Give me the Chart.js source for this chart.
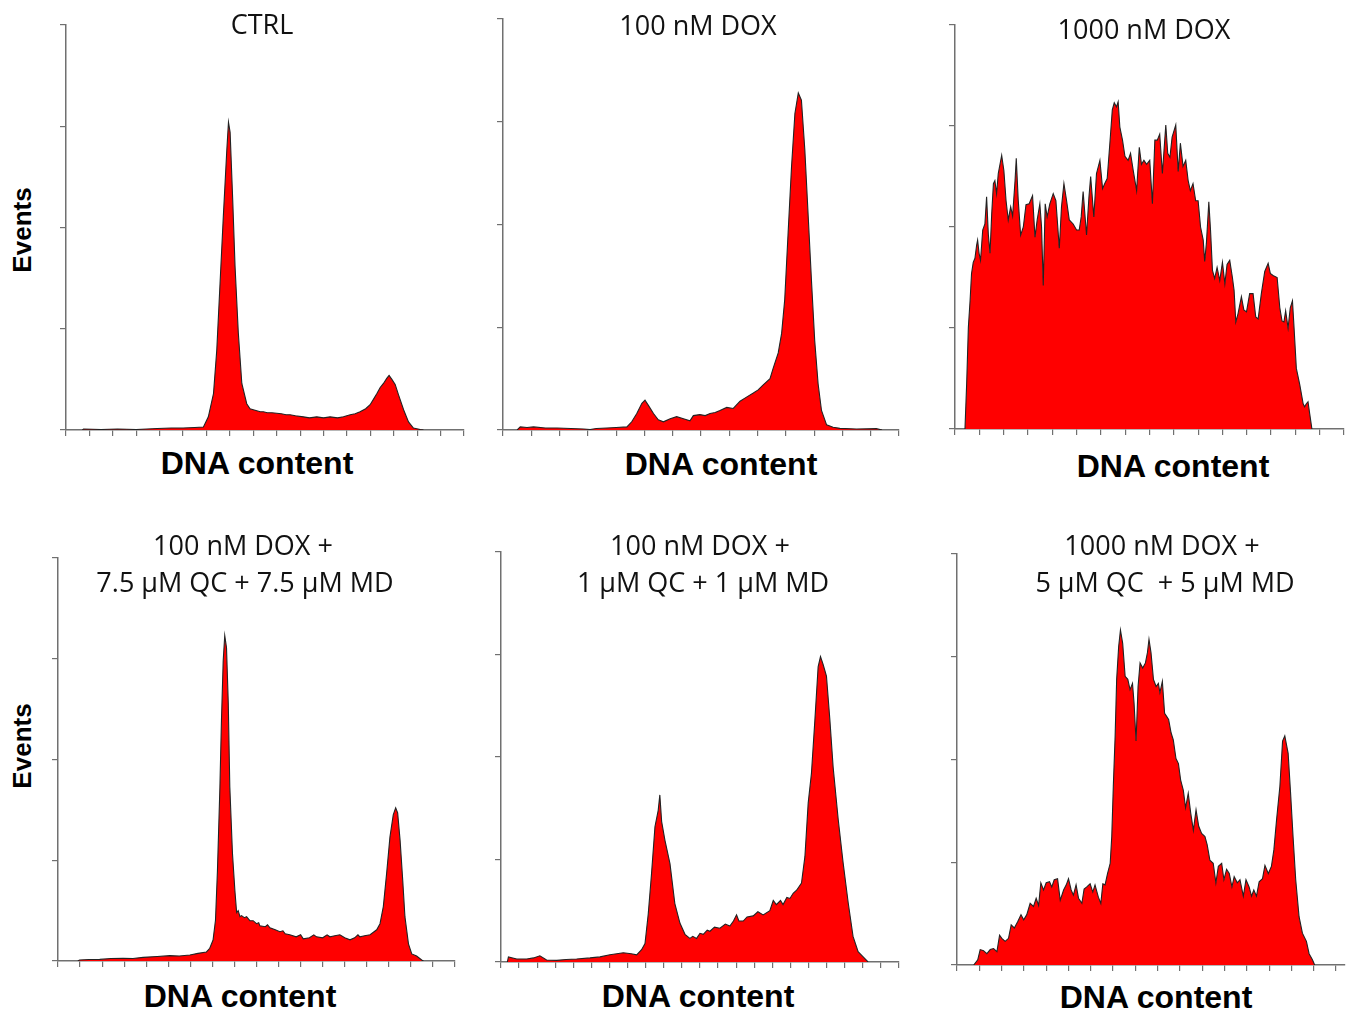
<!DOCTYPE html>
<html>
<head>
<meta charset="utf-8">
<script src="https://cdn.jsdelivr.net/npm/chart.js@4.4.0/dist/chart.umd.min.js"></script>
<style>
    body { margin: 0; background: #fff; }
    #wrap { position: relative; width: 1346px; height: 1009px; overflow: hidden; }
    .panel { position: absolute; }
    .lbl { position: absolute; transform: translate(-50%, -50%); white-space: pre; line-height: 1; color: #111; }
    .ttl { font-family: 'Open Sans', sans-serif; font-size: 27px; }
    .xt { font-family: 'Liberation Sans', Arial, sans-serif; font-weight: bold; font-size: 32px; color: #000; }
    .yt { font-family: 'Liberation Sans', Arial, sans-serif; font-weight: bold; font-size: 26px; color: #000; transform: translate(-50%, -50%) rotate(-90deg); }
</style>
</head>
<body>
<div id="wrap"></div>
<script>
// x values are in tick intervals of each panel's DNA-content axis, y in events (tick every 100)
const ctrlData = [
    [0.7, 0], [0.75, 1], [1.5, 0.5], [2.2, 1], [3.0, 0.5], [3.9, 1.5], [4.5, 2], [5.0, 2], [5.5, 2.5],
    [5.87, 3], [6.08, 13], [6.30, 36], [6.44, 79], [6.58, 145], [6.72, 211], [6.87, 277], [6.94, 304],
    [7.01, 294], [7.12, 228], [7.22, 162], [7.36, 96], [7.51, 46], [7.72, 26], [7.86, 21], [8.0, 20],
    [8.15, 19], [8.3, 18], [8.43, 18], [8.6, 17], [8.8, 17], [9.0, 16.5], [9.2, 16], [9.4, 15], [9.57, 15],
    [9.8, 14], [10.14, 13], [10.4, 12], [10.71, 13], [11.0, 12], [11.28, 13], [11.6, 12], [11.85, 13],
    [12.14, 15], [12.35, 16], [12.56, 18], [12.8, 21], [12.99, 25], [13.15, 31], [13.28, 36], [13.42, 42],
    [13.56, 46], [13.70, 51], [13.80, 54], [13.92, 50], [14.06, 45], [14.20, 35], [14.42, 20], [14.63, 8],
    [14.84, 2], [15.13, 0.5], [15.27, 0]
];

const dox100Data = [
    [0.5, 0], [0.61, 3], [0.85, 2.5], [1.08, 3], [1.5, 2], [1.91, 2], [2.4, 1.5], [2.85, 1], [3.08, 0.5],
    [3.3, 1.5], [3.67, 2], [4.0, 2.5], [4.38, 3], [4.55, 8], [4.73, 16], [4.91, 26], [5.02, 29], [5.14, 24],
    [5.32, 16], [5.49, 10], [5.67, 8], [5.91, 11], [6.14, 13], [6.38, 11], [6.61, 9], [6.73, 14], [6.96, 15],
    [7.15, 14], [7.32, 16], [7.5, 17], [7.67, 19], [7.91, 22], [8.14, 21], [8.38, 28], [8.61, 32], [8.85, 36],
    [9.02, 39], [9.20, 44], [9.44, 50], [9.55, 60], [9.73, 75], [9.85, 94], [9.96, 127], [10.08, 192],
    [10.20, 256], [10.32, 308], [10.44, 328], [10.55, 321], [10.67, 273], [10.79, 208], [10.91, 143],
    [11.02, 87], [11.14, 45], [11.26, 19], [11.44, 5], [11.67, 2.6], [11.91, 1.6], [12.49, 1], [13.2, 1.3],
    [13.4, 0]
];

const dox1000Data = [
    [0.41, 0], [0.48, 45], [0.55, 101], [0.62, 127], [0.68, 154], [0.75, 165], [0.82, 169], [0.89, 182],
    [0.93, 187], [0.99, 174], [1.05, 167], [1.14, 197], [1.23, 203], [1.30, 230], [1.37, 193], [1.44, 174],
    [1.51, 213], [1.58, 243], [1.64, 246], [1.71, 233], [1.78, 253], [1.92, 271], [2.01, 256], [2.10, 226],
    [2.19, 207], [2.29, 220], [2.37, 211], [2.47, 246], [2.52, 268], [2.60, 227], [2.70, 192], [2.81, 200],
    [2.92, 222], [3.05, 223], [3.19, 231], [3.29, 190], [3.38, 207], [3.49, 223], [3.56, 200], [3.63, 142],
    [3.71, 223], [3.79, 210], [3.90, 223], [4.04, 233], [4.15, 226], [4.29, 179], [4.38, 220], [4.48, 243],
    [4.59, 226], [4.70, 207], [4.86, 203], [5.00, 197], [5.11, 197], [5.19, 210], [5.27, 235], [5.41, 192],
    [5.51, 230], [5.58, 250], [5.71, 210], [5.82, 253], [5.96, 266], [6.07, 238], [6.16, 243], [6.26, 248],
    [6.37, 283], [6.47, 316], [6.55, 323], [6.64, 319], [6.71, 324], [6.78, 299], [6.89, 286], [6.99, 270],
    [7.12, 266], [7.22, 273], [7.33, 256], [7.47, 236], [7.58, 279], [7.67, 262], [7.77, 266], [7.88, 262],
    [8.01, 266], [8.12, 223], [8.22, 286], [8.32, 286], [8.42, 292], [8.53, 253], [8.67, 301], [8.75, 273],
    [8.84, 269], [8.93, 289], [9.08, 301], [9.18, 255], [9.27, 283], [9.38, 260], [9.49, 266], [9.59, 246],
    [9.68, 236], [9.79, 243], [9.90, 226], [10.00, 226], [10.10, 200], [10.21, 187], [10.27, 166],
    [10.34, 184], [10.44, 225], [10.51, 197], [10.59, 157], [10.68, 149], [10.78, 160], [10.89, 147],
    [11.00, 165], [11.10, 144], [11.19, 163], [11.30, 167], [11.41, 150], [11.48, 137], [11.55, 106],
    [11.64, 114], [11.78, 131], [11.88, 118], [11.99, 116], [12.12, 134], [12.26, 134], [12.37, 111],
    [12.47, 109], [12.60, 134], [12.74, 156], [12.88, 164], [12.97, 154], [13.08, 152], [13.25, 150],
    [13.36, 120], [13.45, 107], [13.53, 106], [13.60, 117], [13.70, 100], [13.79, 120], [13.88, 127],
    [13.93, 107], [14.04, 60], [14.18, 44], [14.32, 25], [14.38, 22], [14.45, 25], [14.52, 27], [14.59, 15],
    [14.68, 0]
];

const comboLowData = [
    [0.9, 0], [0.98, 1], [1.4, 1.5], [1.89, 1.6], [2.4, 2.5], [2.95, 2.6], [3.4, 2.5], [3.86, 3.6],
    [4.5, 4.5], [5.07, 5.3], [5.5, 5], [5.98, 6], [6.35, 7.6], [6.73, 9], [6.88, 12.6], [7.03, 20.8],
    [7.14, 40.5], [7.23, 90], [7.34, 172], [7.41, 238], [7.49, 298], [7.56, 323], [7.64, 311], [7.72, 256],
    [7.79, 173], [7.91, 107], [8.02, 70], [8.1, 48], [8.17, 50], [8.25, 44], [8.32, 45], [8.45, 43],
    [8.55, 44], [8.7, 40], [8.85, 40], [9.0, 37], [9.1, 38], [9.15, 35], [9.4, 34], [9.5, 36], [9.61, 33],
    [9.85, 31], [10.06, 29], [10.2, 30], [10.3, 27], [10.51, 26], [10.8, 24], [11.0, 26], [11.12, 22],
    [11.4, 23], [11.6, 26], [11.72, 24], [12.0, 23], [12.2, 26], [12.33, 24], [12.55, 25], [12.78, 26],
    [13.0, 23], [13.24, 21], [13.45, 23], [13.6, 26], [13.69, 24], [13.9, 25], [14.15, 26], [14.45, 31],
    [14.60, 37], [14.75, 54], [14.90, 87], [15.05, 123], [15.20, 145], [15.31, 152], [15.40, 147],
    [15.51, 120], [15.63, 80], [15.73, 44], [15.89, 17], [16.04, 7], [16.26, 5], [16.49, 1], [16.57, 0]
];

const comboMidData = [
    [0.35, 0], [0.41, 5], [0.87, 3], [1.42, 3], [1.8, 4], [2.15, 6], [2.52, 2], [3.08, 1.6], [3.6, 2.5],
    [4.18, 3], [4.92, 4], [5.47, 5], [6.02, 7], [6.4, 8], [6.76, 9], [7.2, 8], [7.50, 7], [7.77, 12],
    [7.96, 18], [8.14, 47], [8.32, 86], [8.51, 132], [8.69, 148], [8.78, 163], [8.88, 137], [9.06, 119],
    [9.34, 96], [9.61, 57], [9.89, 38], [10.17, 27], [10.44, 23], [10.6, 25], [10.81, 23], [11.0, 28],
    [11.18, 27], [11.4, 31], [11.55, 30], [11.8, 34], [12.10, 33], [12.4, 37], [12.65, 35], [12.85, 40],
    [13.02, 46], [13.15, 40], [13.39, 40], [13.6, 44], [13.94, 45], [14.2, 49], [14.49, 46], [14.86, 50],
    [15.05, 60], [15.22, 56], [15.45, 60], [15.59, 56], [15.8, 63], [15.97, 62], [16.15, 67], [16.34, 70],
    [16.61, 77], [16.80, 103], [16.98, 155], [17.16, 184], [17.35, 236], [17.53, 288], [17.66, 298],
    [17.81, 290], [17.99, 279], [18.18, 236], [18.36, 190], [18.64, 139], [18.91, 97], [19.19, 58],
    [19.46, 25], [19.74, 10], [20.02, 5], [20.29, 0]
];

const comboHighData = [
    [0.75, 0], [0.93, 5], [1.04, 15], [1.19, 14], [1.34, 11], [1.49, 15], [1.64, 16], [1.79, 13], [1.91, 29],
    [2.01, 26], [2.16, 23], [2.31, 26], [2.43, 39], [2.57, 36], [2.72, 42], [2.87, 49], [2.99, 44], [3.13, 49],
    [3.28, 60], [3.43, 57], [3.55, 65], [3.66, 58], [3.76, 80], [3.88, 73], [4.00, 80], [4.15, 81], [4.25, 76],
    [4.36, 83], [4.51, 84], [4.63, 63], [4.78, 73], [4.90, 78], [5.00, 84], [5.12, 73], [5.22, 68], [5.34, 78],
    [5.45, 65], [5.60, 60], [5.70, 74], [5.82, 76], [5.97, 79], [6.09, 71], [6.19, 78], [6.34, 66], [6.45, 60],
    [6.54, 79], [6.64, 78], [6.75, 89], [6.87, 99], [6.94, 125], [7.01, 174], [7.09, 222], [7.16, 278],
    [7.25, 310], [7.33, 326], [7.43, 313], [7.54, 281], [7.66, 278], [7.76, 268], [7.87, 274], [7.94, 255],
    [8.03, 218], [8.12, 271], [8.21, 294], [8.33, 289], [8.45, 294], [8.54, 304], [8.61, 317], [8.70, 304],
    [8.81, 278], [8.93, 271], [9.03, 274], [9.10, 265], [9.21, 276], [9.31, 245], [9.40, 242], [9.49, 239],
    [9.60, 226], [9.70, 219], [9.82, 201], [9.93, 196], [10.03, 180], [10.15, 170], [10.25, 153],
    [10.37, 167], [10.48, 148], [10.60, 131], [10.72, 151], [10.84, 135], [10.97, 128], [11.12, 125],
    [11.22, 117], [11.34, 102], [11.49, 99], [11.61, 80], [11.72, 96], [11.87, 99], [11.97, 83], [12.09, 93],
    [12.21, 89], [12.33, 76], [12.43, 86], [12.57, 80], [12.69, 83], [12.84, 67], [12.96, 83], [13.10, 76],
    [13.21, 67], [13.31, 73], [13.43, 67], [13.55, 81], [13.70, 84], [13.81, 97], [13.96, 89], [14.10, 96],
    [14.21, 112], [14.33, 141], [14.48, 174], [14.60, 218], [14.70, 223], [14.85, 206], [14.96, 167],
    [15.07, 125], [15.19, 83], [15.34, 47], [15.49, 31], [15.67, 23], [15.79, 11], [15.94, 5], [16.04, 0]
];

// plot box of each panel in page pixels: left, top, right, bottom
const panels = [
    { data: ctrlData, xMax: 17, box: [66, 25, 464, 430] },
    { data: dox100Data, xMax: 14, box: [503, 19, 899, 430] },
    { data: dox1000Data, xMax: 16, box: [955, 25, 1344, 429] },
    { data: comboLowData, xMax: 18, box: [58, 558, 455, 961] },
    { data: comboMidData, xMax: 22, box: [501, 552, 899, 962] },
    { data: comboHighData, xMax: 17.4, box: [957, 554, 1345, 965] }
];

const labels = [
    ['CTRL', 262, 23, 'ttl'],
    ['100 nM DOX', 698, 24, 'ttl'],
    ['1000 nM DOX', 1144, 28, 'ttl'],
    ['100 nM DOX +', 243, 544, 'ttl'],
    ['7.5 \u03bcM QC + 7.5 \u03bcM MD', 245, 581, 'ttl'],
    ['100 nM DOX +', 700, 544, 'ttl'],
    ['1 \u03bcM QC + 1 \u03bcM MD', 703, 581, 'ttl'],
    ['1000 nM DOX +', 1162, 544, 'ttl'],
    ['5 \u03bcM QC  + 5 \u03bcM MD', 1165, 581, 'ttl'],
    ['DNA content', 257, 463, 'xt'],
    ['DNA content', 721, 464, 'xt'],
    ['DNA content', 1173, 466, 'xt'],
    ['DNA content', 240, 996, 'xt'],
    ['DNA content', 698, 996, 'xt'],
    ['DNA content', 1156, 997, 'xt'],
    ['Events', 22, 230, 'yt'],
    ['Events', 22, 746, 'yt']
];

const wrap = document.getElementById('wrap');
const TICK = 6;

function makePanel(p) {
    const [l, t, r, b] = p.box;
    const div = document.createElement('div');
    div.className = 'panel';
    div.style.left = (l - TICK - 2) + 'px';
    div.style.top = (t - 4) + 'px';
    div.style.width = (r - l + TICK + 6) + 'px';
    div.style.height = (b - t + TICK + 8) + 'px';
    const canvas = document.createElement('canvas');
    div.appendChild(canvas);
    wrap.appendChild(div);

    const axisStyle = {
        grid: { drawOnChartArea: false, drawTicks: true, tickLength: TICK, color: '#707070', lineWidth: 1.2 },
        border: { color: '#707070', width: 1.5 },
        ticks: { display: false }
    };

    new Chart(canvas.getContext('2d'), {
        type: 'line',
        data: {
            datasets: [
                {
                    data: p.data.map(d => ({ x: d[0], y: d[1] })),
                    borderColor: '#222',
                    borderWidth: 1.1,
                    backgroundColor: '#ff0000',
                    fill: 'origin',
                    pointRadius: 0,
                    tension: 0
                }
            ]
        },
        options: {
            responsive: true,
            maintainAspectRatio: false,
            animation: false,
            layout: { padding: { left: 2, top: 4, right: 4, bottom: 4 } },
            plugins: { legend: { display: false }, tooltip: { enabled: false } },
            scales: {
                x: Object.assign({ type: 'linear', min: 0, max: p.xMax }, axisStyle, {
                    ticks: { display: false, stepSize: 1, includeBounds: false }
                }),
                y: Object.assign({ min: 0, max: 400 }, axisStyle, {
                    ticks: { display: false, stepSize: 100 }
                })
            }
        }
    });
}

panels.forEach(makePanel);

labels.forEach(([text, x, y, cls]) => {
    const el = document.createElement('div');
    el.className = 'lbl ' + cls;
    el.textContent = text;
    el.style.left = x + 'px';
    el.style.top = y + 'px';
    wrap.appendChild(el);
});
</script>
</body>
</html>
